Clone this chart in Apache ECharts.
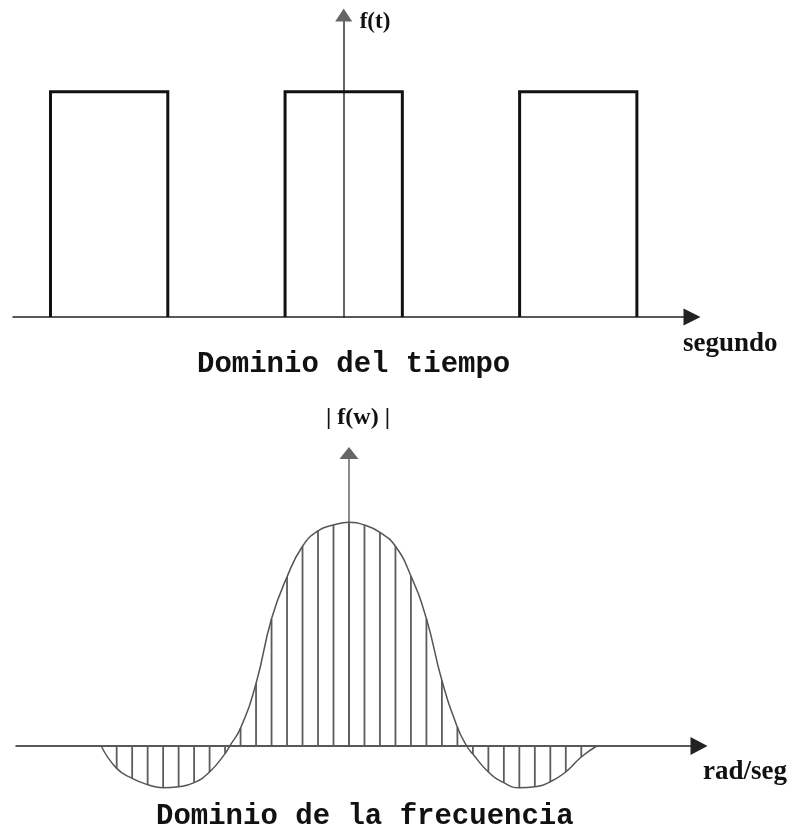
<!DOCTYPE html>
<html>
<head>
<meta charset="utf-8">
<title>Dominio del tiempo y de la frecuencia</title>
<script src="https://cdn.jsdelivr.net/npm/echarts@6/dist/echarts.min.js"></script>
<style>
  html, body { margin: 0; padding: 0; background: #fff; }
  #chart { width: 794px; height: 829px; }
</style>
</head>
<body>
<div id="chart"></div>
<script>
// tren de pulsos (tiempo en unidades del ancho de pulso)
let pulseStart = [-2.5, -0.5, 1.5]
let pulseEnd = [-1.5, 0.5, 2.5]
let pulseHeight = 1

// |f(w)| (w en pasos del rayado, amplitud relativa al pico)
let freqW = [-16, -15, -14, -13, -12, -11, -10, -9, -8, -7.7, -7, -6, -5, -4, -3, -2, -1, 0,
  1, 2, 3, 4, 5, 6, 7, 7.6, 8, 9, 10, 11, 12, 13, 14, 15, 16]
let freqAmp = [0, -0.10, -0.145, -0.173, -0.187, -0.182, -0.164, -0.116, -0.034, 0, 0.08, 0.28, 0.569, 0.756, 0.893, 0.962, 0.988, 1,
  0.988, 0.955, 0.893, 0.76, 0.569, 0.293, 0.084, 0, -0.036, -0.116, -0.164, -0.187, -0.182, -0.16, -0.116, -0.049, 0]

// lineas del rayado
let hatchW = [-15, -14, -13, -12, -11, -10, -9, -8, -7, -6, -5, -4, -3, -2, -1, 0,
  1, 2, 3, 4, 5, 6, 7, 8, 9, 10, 11, 12, 13, 14, 15]

let serifName = {
  fontFamily: 'Liberation Serif',
  fontWeight: 'bold',
  color: '#111'
}

function baseAxis (opt) {
  return Object.assign({
    splitLine: { show: false },
    axisTick: { show: false },
    axisLabel: { show: false }
  }, opt)
}

let series = []
for (let i = 0; i < pulseStart.length; i++) {
  series.push({
    type: 'line',
    xAxisIndex: 0,
    yAxisIndex: 0,
    symbol: 'none',
    z: 3,
    lineStyle: { color: '#111', width: 3, join: 'miter' },
    data: [
      [pulseStart[i], 0],
      [pulseStart[i], pulseHeight],
      [pulseEnd[i], pulseHeight],
      [pulseEnd[i], 0]
    ]
  })
}

series.push({
  type: 'bar',
  xAxisIndex: 1,
  yAxisIndex: 1,
  barWidth: 1.8,
  clip: false,
  itemStyle: { color: '#5c5c5c' },
  data: hatchW.map(w => [w, freqAmp[freqW.indexOf(w)]])
})

series.push({
  type: 'line',
  xAxisIndex: 1,
  yAxisIndex: 1,
  symbol: 'none',
  smooth: 0.5,
  clip: false,
  z: 3,
  lineStyle: { color: '#555', width: 1.5 },
  data: freqW.map((w, i) => [w, freqAmp[i]])
})

let myChart = echarts.init(document.getElementById('chart'))
let option = {
  animation: false,
  backgroundColor: '#fff',
  title: [{
    text: 'Dominio del tiempo',
    left: 192,
    top: 345,
    textStyle: { fontFamily: 'Liberation Mono', fontWeight: 'bold', fontSize: 29, color: '#111' }
  }, {
    text: 'Dominio de la frecuencia',
    left: 151,
    top: 797,
    textStyle: { fontFamily: 'Liberation Mono', fontWeight: 'bold', fontSize: 29, color: '#111' }
  }],
  grid: [
    { left: 13, right: 102, top: 15, height: 302 },
    { left: 16, right: 95, top: 453, height: 293 }
  ],
  xAxis: [
    baseAxis({
      type: 'value',
      gridIndex: 0,
      min: -2.82,
      max: 2.97,
      name: 'segundo',
      nameLocation: 'end',
      nameGap: -9,
      nameTextStyle: Object.assign({ fontSize: 27, align: 'left', verticalAlign: 'top', padding: [14, 0, 0, 0] }, serifName),
      axisLine: { symbol: ['none', 'triangle'], symbolSize: [17, 17], lineStyle: { color: '#222', width: 1.5 } }
    }),
    baseAxis({
      type: 'value',
      gridIndex: 1,
      min: -21.5,
      max: 22.6,
      name: 'rad/seg',
      nameLocation: 'end',
      nameGap: 4,
      nameTextStyle: Object.assign({ fontSize: 27, align: 'left', verticalAlign: 'top', padding: [13, 0, 0, 0] }, serifName),
      axisLine: { symbol: ['none', 'triangle'], symbolSize: [18, 17], lineStyle: { color: '#222', width: 1.5 } }
    })
  ],
  yAxis: [
    baseAxis({
      type: 'value',
      gridIndex: 0,
      min: 0,
      max: 1.34,
      name: 'f(t)',
      nameLocation: 'end',
      nameGap: -7,
      nameTextStyle: Object.assign({ fontSize: 23, align: 'left', verticalAlign: 'middle', padding: [0, 0, 0, 16] }, serifName),
      axisLine: { onZero: true, symbol: ['none', 'triangle'], symbolSize: [17, 13], lineStyle: { color: '#666', width: 2 } }
    }),
    baseAxis({
      type: 'value',
      gridIndex: 1,
      min: 0,
      max: 1.31,
      name: '| f(w) |',
      nameLocation: 'end',
      nameGap: 35,
      nameTextStyle: Object.assign({ fontSize: 24, align: 'center', verticalAlign: 'middle', padding: [0, 0, 0, 18] }, serifName),
      axisLine: { onZero: true, symbol: ['none', 'triangle'], symbolSize: [19, 12], lineStyle: { color: '#666', width: 1.5 } }
    })
  ],
  series: series
}
myChart.setOption(option)
</script>
</body>
</html>
